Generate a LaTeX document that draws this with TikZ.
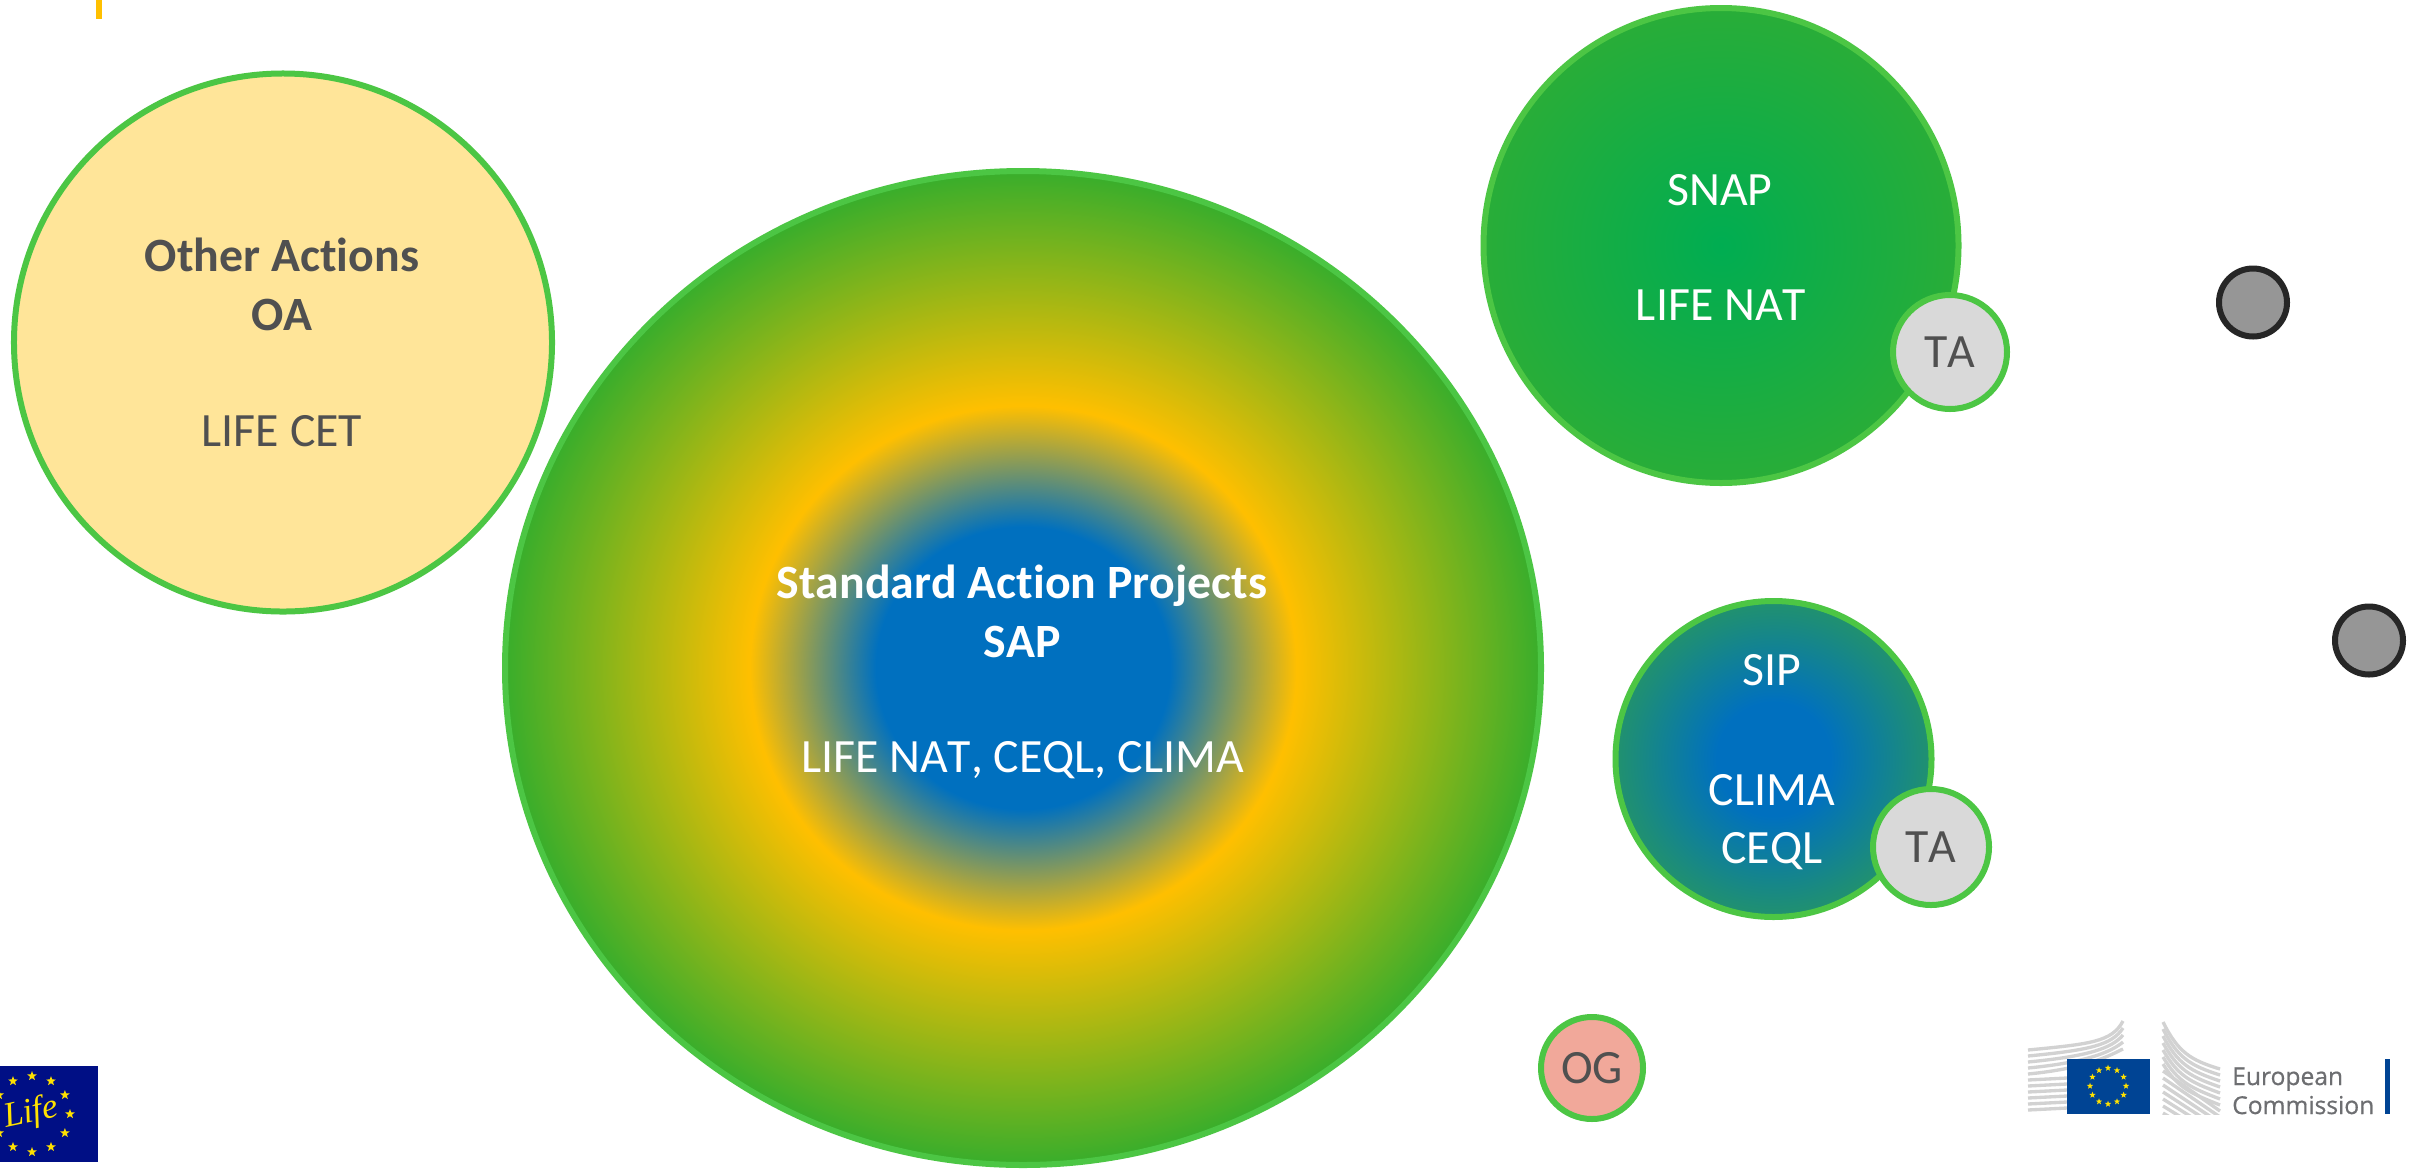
\documentclass[tikz,border=0pt]{standalone}
\usepackage{fontspec}
\setmainfont{Carlito}[Ligatures=NoCommon,Kerning=Off]
\newfontfamily\ecfont{Open Sans}[FakeBold=0.6]
\newfontfamily\lifefont{Liberation Serif}
\usetikzlibrary{shapes.geometric}
\definecolor{ringgreen}{HTML}{4CC644}
\definecolor{darktxt}{HTML}{505050}
\definecolor{oafill}{HTML}{FFE599}
\definecolor{tafill}{HTML}{D9D9D9}
\definecolor{ogfill}{HTML}{F1A89A}
\definecolor{dotline}{HTML}{262626}
\definecolor{dotfill}{HTML}{969696}
\definecolor{marker}{HTML}{FFC000}
\definecolor{lifeblue}{HTML}{000F85}
\definecolor{lifeyellow}{HTML}{FFE100}
\definecolor{ecblue}{HTML}{004494}
\definecolor{ecgrey}{HTML}{D2D2D2}
\definecolor{ectext}{HTML}{6D6E71}
\pgfdeclareradialshading{sapshade}{\pgfpointorigin}{
 rgb(0bp)=(0,0.44,0.75);
 rgb(7.1bp)=(0,0.44,0.75);
 rgb(13.2bp)=(1,0.75,0);
 rgb(25bp)=(0.22,0.68,0.17);
 rgb(50bp)=(0.22,0.68,0.17)}
\pgfdeclareradialshading{snapshade}{\pgfpointorigin}{
 rgb(0bp)=(0,0.68,0.32);
 rgb(25bp)=(0.16,0.68,0.22);
 rgb(50bp)=(0.16,0.68,0.22)}
\pgfdeclareradialshading{sipshade}{\pgfpointorigin}{
 rgb(0bp)=(0,0.44,0.75);
 rgb(9bp)=(0,0.44,0.75);
 rgb(25bp)=(0.13,0.57,0.43);
 rgb(50bp)=(0.13,0.57,0.43)}
\tikzset{
 x=0.03cm,y=-0.03cm,
 lab/.style={inner sep=0pt,anchor=base,font=\fontsize{40.8}{50}\selectfont},
 labb/.style={lab,font=\fontsize{40.8}{50}\selectfont\bfseries},
 small/.style={circle,draw=ringgreen,line width=0.18cm,fill=#1,inner sep=0pt,text=darktxt,font=\fontsize{40.8}{50}\selectfont},
 dot/.style={circle,draw=dotline,fill=dotfill,line width=0.18cm,inner sep=0pt,minimum size=2.04cm},
 lifestar/.style={shape=star,star points=5,star point ratio=2.4,fill=lifeyellow,draw=none,inner sep=0pt,minimum size=0.3cm},
 ecstar/.style={shape=star,star points=5,star point ratio=2.4,fill=lifeyellow,draw=none,inner sep=0pt,minimum size=0.2cm},
 wing/.style={ecgrey,line width=0.1cm},
}
\begin{document}
\begin{tikzpicture}
\useasboundingbox (0,0) rectangle (2425,1168);
\fill[white] (0,0) rectangle (2425,1168);
% top marker
\fill[marker] (96,0) rectangle (102,19);
% OA
\node[circle,draw=ringgreen,fill=oafill,line width=0.18cm,inner sep=0pt,minimum size=16.14cm] (oa) at (283,342.5) {};
\node[labb,text=darktxt] (oa1) at (282,271) {Other Actions};
\node[labb,text=darktxt] (oa2) at (282,330) {OA};
\node[lab,text=darktxt] (oa3) at (282,446) {LIFE CET};
% SAP
\begin{scope}
\clip (0,0) rectangle (2425,1168);
\path[shading=sapshade] (1023,668) circle[x radius=518,y radius=497];
\draw[ringgreen,line width=0.18cm] (1023,668) circle[x radius=518,y radius=497];
\end{scope}
\node[labb,text=white] (sap1) at (1022,598) {Standard Action Projects};
\node[labb,text=white] (sap2) at (1022,657) {SAP};
\node[lab,text=white] (sap3) at (1022.5,772) {LIFE NAT, CEQL, CLIMA};
% SNAP
\path[shading=snapshade] (1721,245.5) circle[radius=237.5];
\draw[ringgreen,line width=0.18cm] (1721,245.5) circle[radius=237.5];
\node[lab,text=white] (snap) at (1720,205) {SNAP};
\node[lab,text=white] (lnat) at (1721,320) {LIFE NAT};
\node[small=tafill,minimum size=3.42cm] (ta1) at (1950,352) {TA};
% SIP
\path[shading=sipshade] (1773.5,759) circle[radius=158];
\draw[ringgreen,line width=0.18cm] (1773.5,759) circle[radius=158];
\node[lab,text=white] (sip) at (1772,685) {SIP};
\node[lab,text=white] (clima) at (1772,805) {CLIMA};
\node[lab,text=white] (ceql) at (1772,863) {CEQL};
\node[small=tafill,minimum size=3.48cm] (ta2) at (1931,847) {TA};
% OG
\node[small=ogfill,minimum size=3.06cm] (og) at (1592,1068) {OG};
% grey dots
\node[dot] (d1) at (2253,302.5) {};
\node[dot] (d2) at (2369,640.5) {};
% Life logo
\fill[lifeblue] (0,1066) rectangle (98,1162);
\node[inner sep=0pt,text=lifeyellow,font=\lifefont\itshape\fontsize{30}{30}\selectfont,rotate=12] (life) at (31,1113) {Life};
\foreach \a in {0,30,...,330}{\node[lifestar] at ([shift={(\a:38)}]32,1114) {};}
% EC logo
\begin{scope}
\clip (2020,1015) rectangle (2225,1114);
\foreach \i in {0,...,4}{
 \draw[wing] (2028,1050+\i*6) .. controls (2090,1044+\i*6) and (2112,1042+\i*3) .. (2123,1021+\i*7);
}
\foreach \i in {5,...,10}{\draw[wing] (2028,1050+\i*6) -- (2067,1048+\i*6);}
\foreach \i in {0,...,6}{
 \draw[wing] (2163,1022+\i*7) .. controls (2178,1052+\i*6) and (2190,1060+\i*5.5) .. (2220,1069+\i*6);
}
\foreach \i in {7,...,13}{\draw[wing] (2163,1022+\i*7) -- (2220,1069+\i*6);}
\end{scope}
\fill[ecblue] (2067,1059) rectangle (2150,1114);
\foreach \a in {0,30,...,330}{\node[ecstar] at ([shift={(\a:18)}]2108,1086) {};}
\node[anchor=base west,inner sep=0pt,text=ectext,font=\ecfont\fontsize{21}{21}\selectfont] (ec1) at (2232,1085) {European};
\node[anchor=base west,inner sep=0pt,text=ectext,font=\ecfont\fontsize{21}{21}\selectfont] (ec2) at (2232,1114) {Commission};
\fill[ecblue] (2385,1059) rectangle (2390,1114);
\end{tikzpicture}
\end{document}
